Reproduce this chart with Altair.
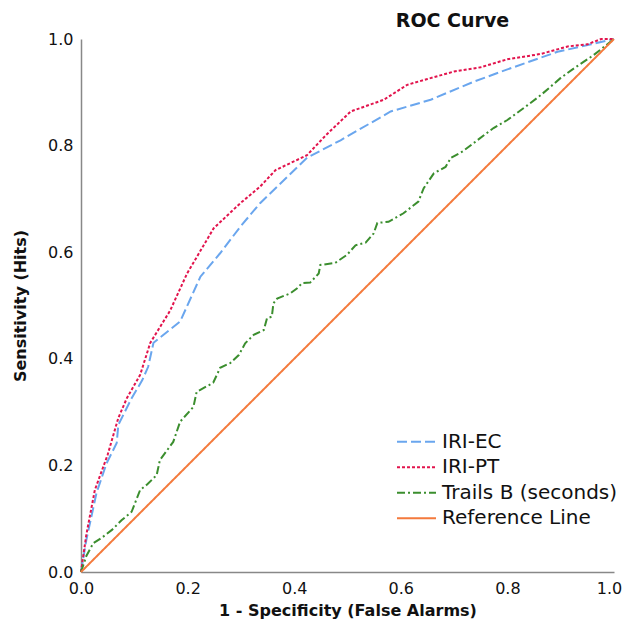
import altair as alt
import pandas as pd

series_names = ["IRI-EC", "IRI-PT", "Trails B (seconds)", "Reference Line"]
colors = ["#6aa6ee", "#e2144d", "#3b8e2e", "#f47a3c"]
dashes = [[10, 4], [3, 2], [8, 3, 2, 3], [1, 0]]

ec_x = [0, 0.01, 0.029, 0.048, 0.067, 0.07, 0.095, 0.115, 0.126, 0.136, 0.186, 0.224, 0.261, 0.299, 0.336,
        0.424, 0.487, 0.581, 0.656, 0.737, 0.80, 0.894, 0.957, 1.0]
ec_y = [0, 0.06, 0.148, 0.204, 0.242, 0.276, 0.326, 0.36, 0.385, 0.43, 0.47, 0.554, 0.598, 0.648, 0.692,
        0.777, 0.81, 0.864, 0.886, 0.92, 0.943, 0.976, 0.99, 1.0]

pt_x = [0, 0.01, 0.026, 0.05, 0.07, 0.086, 0.111, 0.13, 0.167, 0.199, 0.249, 0.299, 0.336, 0.365, 0.424,
        0.46, 0.506, 0.568, 0.612, 0.65, 0.70, 0.75, 0.80, 0.863, 0.913, 0.95, 0.976, 1.0]
pt_y = [0, 0.07, 0.154, 0.22, 0.289, 0.326, 0.37, 0.43, 0.49, 0.56, 0.645, 0.692, 0.723, 0.754, 0.782,
        0.82, 0.864, 0.886, 0.914, 0.925, 0.939, 0.947, 0.962, 0.972, 0.986, 0.99, 1.0, 1.0]

tb_x = [0, 0.01, 0.023, 0.04, 0.058, 0.076, 0.095, 0.111, 0.125, 0.142, 0.148, 0.173, 0.186, 0.211, 0.217,
        0.248, 0.261, 0.28, 0.296, 0.308, 0.324, 0.343, 0.349, 0.358, 0.361, 0.368, 0.393, 0.405, 0.415,
        0.43, 0.446, 0.449, 0.477, 0.499, 0.515, 0.534, 0.549, 0.556, 0.577, 0.605, 0.633, 0.643, 0.662,
        0.684, 0.694, 0.716, 0.737, 0.774, 0.80, 0.838, 0.863, 0.90, 0.925, 0.962, 1.0]
tb_y = [0, 0.03, 0.054, 0.065, 0.079, 0.097, 0.113, 0.154, 0.165, 0.182, 0.21, 0.244, 0.282, 0.31, 0.338,
        0.355, 0.383, 0.392, 0.407, 0.429, 0.445, 0.454, 0.476, 0.479, 0.504, 0.513, 0.523, 0.532, 0.542,
        0.543, 0.56, 0.576, 0.58, 0.595, 0.613, 0.618, 0.635, 0.655, 0.657, 0.673, 0.695, 0.72, 0.748,
        0.76, 0.777, 0.789, 0.805, 0.833, 0.848, 0.876, 0.895, 0.927, 0.945, 0.97, 1.0]

ref_x = [0, 1]
ref_y = [0, 1]

tick_values = [0, 0.2, 0.4, 0.6, 0.8, 1.0]

rows = []
for name, xs, ys in zip(series_names, [ec_x, pt_x, tb_x, ref_x], [ec_y, pt_y, tb_y, ref_y]):
    for i, (a, b) in enumerate(zip(xs, ys)):
        rows.append({"series": name, "x": a, "y": b, "i": i})
df = pd.DataFrame(rows)
legend_df = pd.DataFrame({"series": series_names})

font = "DejaVu Sans"

color_enc = alt.Color("series:N", scale=alt.Scale(domain=series_names, range=colors), legend=None)
dash_enc = alt.StrokeDash("series:N", scale=alt.Scale(domain=series_names, range=dashes), legend=None)

lines = alt.Chart(df).mark_line(strokeWidth=2).encode(
    x=alt.X("x:Q", scale=alt.Scale(domain=[0, 1], nice=False),
            axis=alt.Axis(title="1 - Specificity (False Alarms)", values=tick_values,
                          format=".1f", labelFlush=False, labelPadding=8, titlePadding=6,
                          labelOffset={"condition": {"test": "datum.value >= 1", "value": -5}, "value": 0})),
    y=alt.Y("y:Q", scale=alt.Scale(domain=[0, 1], nice=False),
            axis=alt.Axis(title="Sensitivity (Hits)", values=tick_values,
                          format=".1f", labelFlush=False, labelPadding=8, titlePadding=19)),
    color=color_enc,
    strokeDash=dash_enc,
    order="i:Q",
)

# legend: rows placed by one shared point scale (pixels within the plot area, step 25.5)
leg_y = alt.Y("series:N", scale=alt.Scale(domain=series_names, range=[390, 492]), axis=None)
leg_base = alt.Chart(legend_df).encode(y=leg_y)
leg_sym = leg_base.mark_rule(strokeWidth=2).encode(
    x=alt.value(316), x2=alt.value(355), color=color_enc, strokeDash=dash_enc,
)
leg_txt = leg_base.mark_text(
    align="left", baseline="middle", font=font, fontSize=20, color="#111"
).encode(x=alt.value(361), text="series:N")
legend_layer = alt.layer(leg_sym, leg_txt)

chart = alt.layer(lines, legend_layer).resolve_scale(y="independent").properties(
    width=533, height=533,
    title=alt.TitleParams("ROC Curve", fontSize=19, fontWeight="bold", font=font, color="#111",
                          anchor="middle", dx=105, offset=0),
    autosize=alt.AutoSizeParams(type="none"),
    padding={"left": 73, "top": 31, "right": 9, "bottom": 55},
).configure_axis(
    domainColor="#888", domainWidth=1.5, ticks=False, grid=False,
    labelFont=font, labelFontSize=16, labelColor="#111",
    titleFont=font, titleFontSize=16, titleFontWeight="bold", titleColor="#111",
).configure_view(stroke=None)

chart.save("out.html", embed_options={"renderer": "svg", "actions": False})
